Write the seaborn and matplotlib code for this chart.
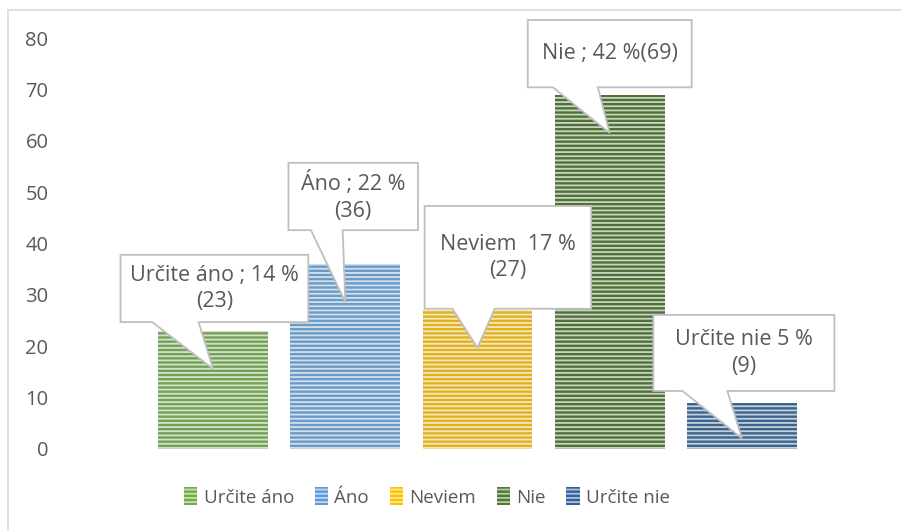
import matplotlib
matplotlib.use("Agg")
import matplotlib.pyplot as plt
from matplotlib.patches import Polygon, Rectangle
from matplotlib.lines import Line2D
import seaborn as sns
import pandas as pd

# ---- data ----
categories = ["Určite áno", "Áno", "Neviem", "Nie", "Určite nie"]
counts = [23, 36, 27, 69, 9]
percents = [14, 22, 17, 42, 5]
labels = ["Určite áno ; 14 %\n(23)", "Áno ; 22 %\n(36)", "Neviem  17 %\n(27)",
          "Nie ; 42 %(69)", "Určite nie 5 %\n(9)"]
colors = ["#70AD47", "#5B9BD5", "#FFC000", "#4C7A2E", "#2E6399"]
yticks = [0, 10, 20, 30, 40, 50, 60, 70, 80]

# callout geometry relative to (bar index, bar value)
# (box x0, box x1, box top, box bottom, pointer base x0, base x1, tip drop)
callouts = [
    (-0.70, 0.72, 14.8, 1.7, -0.46, -0.11, 7.4),
    (-0.43, 0.55, 19.7, 6.6, -0.26, -0.02, 7.4),
    (-0.40, 0.86, 20.3, 0.3, -0.19, 0.13, 7.3),
    (-0.62, 0.62, 14.5, 1.4, -0.43, -0.09, 7.5),
    (-0.67, 0.70, 17.1, 2.3, -0.45, -0.11, 6.9),
]

sns.set_theme(style="white")
plt.rcParams["font.family"] = ["Open Sans", "DejaVu Sans"]
plt.rcParams["hatch.linewidth"] = 1.3

df = pd.DataFrame({"cat": categories, "n": counts})

fig = plt.figure(figsize=(9.01, 5.31), dpi=100)
ax = fig.add_axes([147 / 901, 1 - 449 / 531, (808 - 147) / 901, (449 - 38) / 531])

sns.barplot(data=df, x="cat", y="n", hue="cat", palette=colors, order=categories,
            hue_order=categories, width=0.83, legend=True, ax=ax)

for p in ax.patches:
    p.set_hatch("----")
    p.set_edgecolor((1, 1, 1, 0.7))
    p.set_linewidth(0)

ax.set_ylim(0, 80)
ax.set_xlim(-0.5, len(categories) - 0.5)
ax.set_yticks(yticks)
ax.set_xticks([])
ax.set_xlabel("")
ax.set_ylabel("")
ax.tick_params(axis="y", length=0, pad=71, labelsize=14.5, labelcolor="#595959")
for s in ax.spines.values():
    s.set_visible(False)

# callouts
for i, (val, lab, c) in enumerate(zip(counts, labels, callouts)):
    x0, x1, top, bot, b0, b1, drop = c
    yt, yb = val + top, val + bot
    tip = (i, val - drop)
    pts = [(i + x0, yt), (i + x1, yt), (i + x1, yb), (i + b1, yb), tip,
           (i + b0, yb), (i + x0, yb)]
    poly = Polygon(pts, closed=True, facecolor="white", edgecolor="#BFBFBF",
                   linewidth=1.3, clip_on=False, zorder=5)
    ax.add_patch(poly)
    ax.text(i + (x0 + x1) / 2, (yt + yb) / 2, lab, ha="center", va="center",
            fontsize=15.5, color="#595959", linespacing=1.35, zorder=6,
            clip_on=False)

# legend
leg = ax.get_legend()
leg.remove()
hs = []
for col in colors:
    hs.append(Rectangle((0, 0), 1, 1, facecolor=col, hatch="----",
                        edgecolor=(1, 1, 1, 0.6), linewidth=0))
fig.legend(hs, categories, loc="center", bbox_to_anchor=(427 / 901, 1 - 497 / 531),
           ncol=5, frameon=False, fontsize=13.5, labelcolor="#595959",
           handlelength=0.7, handleheight=1.1, handletextpad=0.35,
           columnspacing=1.1)

# outer frame (left and top edges)
fig.add_artist(Line2D([8 / 901, 8 / 901], [0, 1 - 10 / 531], transform=fig.transFigure,
                      color="#D9D9D9", linewidth=1.2))
fig.add_artist(Line2D([8 / 901, 1], [1 - 10 / 531, 1 - 10 / 531], transform=fig.transFigure,
                      color="#D9D9D9", linewidth=1.2))

fig.savefig("out.png", dpi=100, facecolor="white")
